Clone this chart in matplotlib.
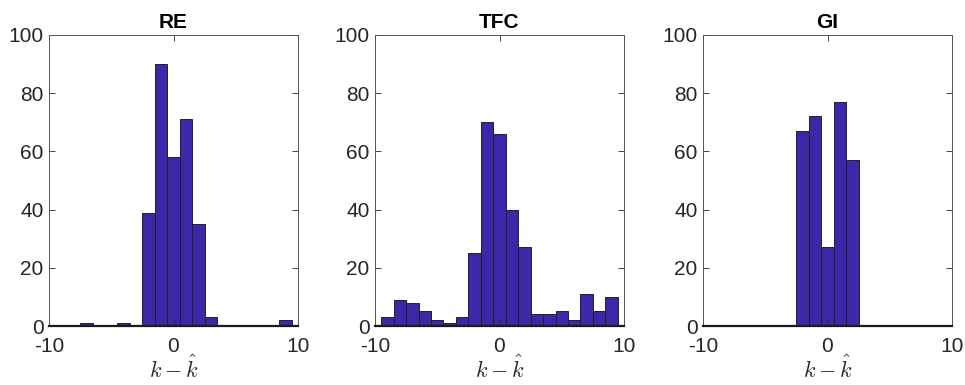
import matplotlib
matplotlib.use("Agg")
import matplotlib.pyplot as plt
import numpy as np

titles = ["RE", "TFC", "GI"]
bin_centers = list(range(-9, 10))
re_counts = [0, 0, 1, 0, 0, 1, 0, 39, 90, 58, 71, 35, 3, 0, 0, 0, 0, 0, 2]
tfc_counts = [3, 9, 8, 5, 2, 1, 3, 25, 70, 66, 40, 27, 4, 4, 5, 2, 11, 5, 10]
gi_counts = [0, 0, 0, 0, 0, 0, 0, 67, 72, 27, 77, 57, 0, 0, 0, 0, 0, 0, 0]
xticks = [-10, 0, 10]
yticks = [0, 20, 40, 60, 80, 100]
xlabel = r"$k-\hat{k}$"

plt.rcParams['font.family'] = ['Liberation Sans', 'DejaVu Sans']
plt.rcParams['mathtext.fontset'] = 'cm'
plt.rcParams['axes.unicode_minus'] = False

fig = plt.figure(figsize=(9.65, 3.85), dpi=100)
lefts = [49/965, 375/965, 703/965]
w = 249/965
b = 1 - 326/385
h = (326 - 35)/385
face = '#3E26A8'
axcol = '#262626'

for left, title, counts in zip(lefts, titles, [re_counts, tfc_counts, gi_counts]):
    ax = fig.add_axes([left, b, w, h])
    centers = np.array(bin_centers)
    cnt = np.array(counts)
    mask = cnt > 0
    ax.bar(centers[mask], cnt[mask], width=1.0, color=face, edgecolor='#222222', linewidth=0.7)
    ax.set_xlim(-10, 10)
    ax.set_ylim(0, 100)
    ax.set_xticks(xticks)
    ax.set_yticks(yticks)
    ax.tick_params(direction='in', top=True, right=True, length=4, width=0.6,
                   labelsize=15, colors=axcol)
    ax.tick_params(axis='x', pad=8)
    ax.tick_params(axis='y', pad=4)
    for s in ['left', 'right', 'top']:
        ax.spines[s].set_color('#555555')
        ax.spines[s].set_linewidth(0.7)
    ax.spines['bottom'].set_color('#1a1a1a')
    ax.spines['bottom'].set_linewidth(1.6)
    ax.set_title(title, fontsize=15, fontweight='bold', pad=5)
    ax.set_xlabel(xlabel, fontsize=16, labelpad=0, color=axcol)

fig.savefig("out.png", dpi=100)
